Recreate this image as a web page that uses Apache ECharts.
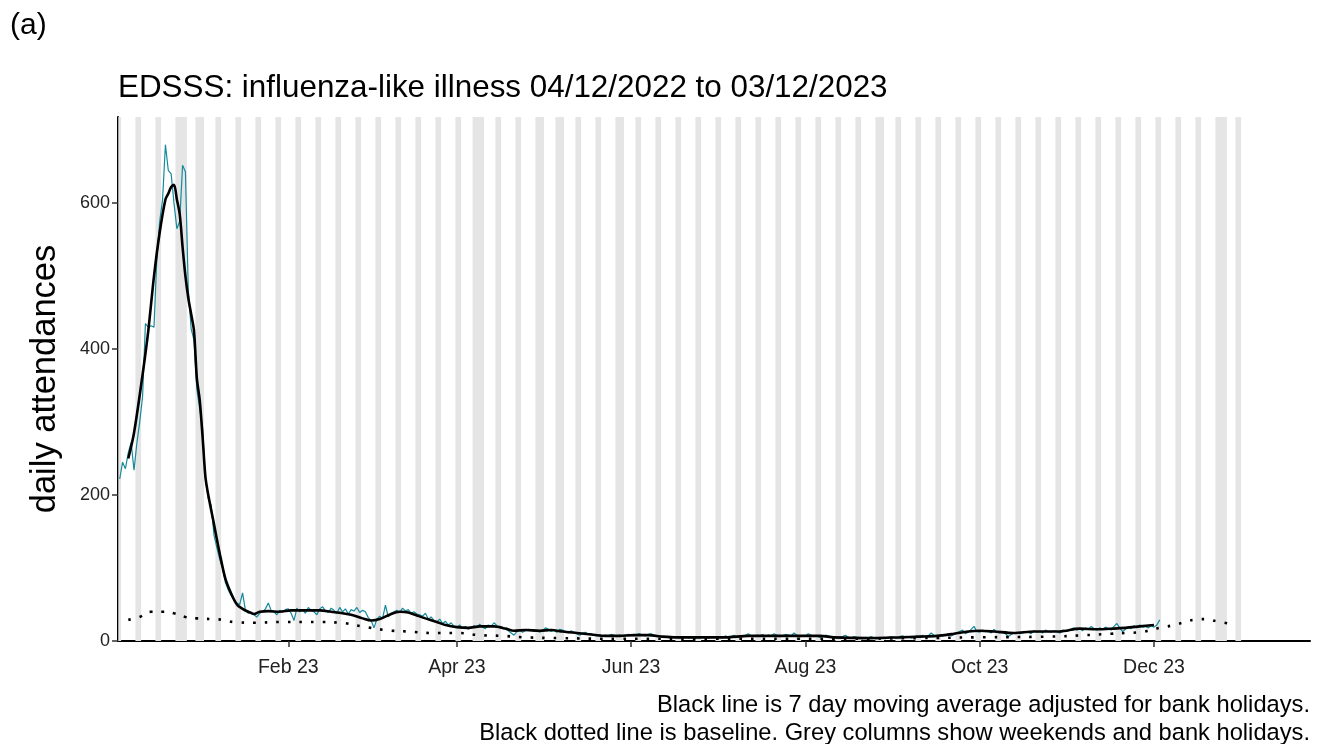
<!DOCTYPE html>
<html>
<head>
<meta charset="utf-8">
<script src="https://cdn.jsdelivr.net/npm/echarts@6/dist/echarts.min.js"></script>
<style>
  html, body { margin: 0; padding: 0; background: #fff; }
  #main { width: 1326px; height: 744px; }
</style>
</head>
<body>
<div id="main"></div>
<script>
const chart = echarts.init(document.querySelector('#main'))

// daily attendances, one array per month, first day 04/12/2022
const dec22 = [222, 245, 236, 258, 272, 234, 271, 300, 335, 435, 430, 432, 430, 525, 575, 605, 680, 645, 640, 600, 565, 575, 652, 643, 482, 428, 412, 345]
const jan23 = [318, 292, 222, 195, 186, 145, 128, 112, 100, 80, 70, 62, 56, 52, 50, 66, 42, 38, 40, 36, 33, 38, 40, 44, 52, 42, 40, 36, 42, 40, 43]
const feb23 = [44, 38, 28, 45, 40, 43, 38, 46, 42, 40, 36, 44, 47, 41, 39, 45, 42, 38, 46, 40, 44, 37, 43, 41, 46, 39, 42, 40]
const mar23 = [32, 28, 18, 30, 34, 31, 49, 33, 38, 40, 42, 39, 45, 41, 43, 38, 40, 37, 36, 34, 38, 30, 33, 28, 26, 30, 24, 27, 22, 25, 20]
const apr23 = [19, 22, 17, 20, 16, 18, 21, 18, 23, 19, 17, 22, 20, 25, 21, 18, 19, 16, 14, 11, 8, 13, 15, 12, 14, 16, 15, 13, 14, 12]
const may23 = [14, 18, 16, 13, 15, 12, 16, 15, 13, 11, 14, 12, 10, 8, 11, 12, 9, 10, 8, 7, 9, 6, 8, 7, 9, 8, 6, 8, 7, 8, 9]
const jun23 = [8, 7, 9, 10, 8, 7, 9, 10, 8, 6, 7, 5, 6, 5, 4, 6, 5, 4, 5, 6, 4, 5, 3, 5, 4, 6, 5, 4, 5, 6]
const jul23 = [5, 6, 4, 7, 5, 6, 8, 5, 7, 6, 8, 10, 7, 6, 8, 7, 9, 6, 8, 7, 10, 8, 6, 7, 9, 8, 7, 11, 8, 6, 7]
const aug23 = [7, 10, 8, 6, 7, 5, 6, 8, 7, 5, 6, 4, 5, 6, 8, 5, 4, 6, 5, 4, 3, 5, 4, 6, 4, 3, 5, 4, 3, 5, 6]
const sep23 = [5, 4, 6, 7, 5, 6, 4, 5, 7, 6, 8, 6, 7, 11, 8, 6, 7, 9, 8, 10, 7, 9, 11, 13, 15, 10, 12, 16, 20, 13]
const oct23 = [12, 15, 13, 14, 11, 16, 12, 11, 13, 10, 6, 9, 11, 12, 10, 11, 13, 12, 10, 14, 12, 13, 11, 15, 13, 12, 14, 13, 11, 15, 14]
const nov23 = [14, 16, 18, 15, 17, 14, 18, 16, 20, 17, 15, 18, 16, 19, 17, 15, 20, 24, 18, 13, 16, 19, 17, 21, 18, 22, 19, 20, 18, 21]
const dec23 = [19, 22, 29]

// 7 day moving average, [day since 04/12/2022, value]
const maPoints = [
  [3, 250], [5, 285], [8, 365], [10, 425], [12, 500], [14, 560], [16, 605], [17, 613], [18, 622], [19, 625],
  [20, 605], [21, 585], [22, 540], [23, 500], [24, 470], [25, 448], [26, 425], [27, 360], [28, 330], [29, 280],
  [30, 225], [31, 200], [33, 160], [35, 120], [37, 85], [39, 65], [41, 50], [43, 44], [45, 40], [47, 37],
  [49, 40], [52, 41], [56, 40], [60, 42], [65, 42], [70, 42], [74, 40], [78, 38], [81, 36], [85, 31],
  [88, 28], [91, 30], [95, 37], [98, 40], [101, 39], [104, 35], [107, 31], [111, 26], [114, 22], [118, 19],
  [122, 18], [126, 20], [131, 20], [135, 17], [138, 14], [142, 15], [147, 14], [151, 15], [155, 13], [160, 11],
  [165, 9], [170, 7], [175, 7], [180, 8], [185, 8], [190, 6], [195, 5], [205, 5], [212, 5], [220, 7],
  [235, 7], [245, 7], [250, 5], [262, 4], [273, 5], [280, 6], [286, 7], [292, 10], [297, 13], [301, 14],
  [306, 13], [313, 11], [320, 13], [329, 13], [336, 17], [342, 16], [348, 17], [352, 18], [357, 20], [362, 22]
]

// baseline, [day since 04/12/2022, value]
const basePoints = [
  [3, 29], [7, 33], [11, 40], [15, 40], [19, 38], [23, 33], [27, 31], [32, 30], [36, 29], [40, 26],
  [47, 25], [56, 26], [69, 26], [77, 25], [85, 20], [93, 15], [101, 13], [110, 11], [118, 11], [126, 8],
  [134, 7], [142, 5], [154, 4], [175, 3], [210, 3], [250, 3], [280, 4], [300, 5], [325, 6], [338, 8],
  [347, 10], [352, 11], [357, 12], [361, 15], [364, 18], [368, 21], [372, 25], [376, 29], [380, 30], [384, 27],
  [388, 24]
]

const bankHolidays = ['2022-12-26', '2022-12-27', '2023-01-02', '2023-04-07', '2023-04-10', '2023-05-01',
  '2023-05-08', '2023-05-29', '2023-08-28', '2023-12-25', '2023-12-26']
const COLUMN_DAYS = 393

const yTicks = [0, 200, 400, 600]
const MONTHS = ['Jan', 'Feb', 'Mar', 'Apr', 'May', 'Jun', 'Jul', 'Aug', 'Sep', 'Oct', 'Nov', 'Dec']
const tickMonths = [[2023, 1], [2023, 3], [2023, 5], [2023, 7], [2023, 9], [2023, 11]]

const DAY = 864e5
function dayTs (d) {
  const whole = Math.floor(d)
  return new Date(2022, 11, 4 + whole).getTime() + (d - whole) * DAY
}
function isoOf (d) {
  const dt = new Date(2022, 11, 4 + d)
  const p = n => String(n).padStart(2, '0')
  return dt.getFullYear() + '-' + p(dt.getMonth() + 1) + '-' + p(dt.getDate())
}

const daily = [].concat(dec22, jan23, feb23, mar23, apr23, may23, jun23, jul23, aug23, sep23, oct23, nov23, dec23)
  .map((v, i) => [dayTs(i), v])

// grey columns: weekends and bank holidays merged into runs
let columns = []
let runStart = null
for (let d = 0; d <= COLUMN_DAYS; d++) {
  const wd = new Date(2022, 11, 4 + d).getDay()
  const off = d < COLUMN_DAYS && (wd === 0 || wd === 6 || bankHolidays.includes(isoOf(d)))
  if (off && runStart === null) runStart = d
  if (!off && runStart !== null) {
    columns.push([{ xAxis: dayTs(runStart - 0.5) }, { xAxis: dayTs(d - 0.5) }])
    runStart = null
  }
}

const tickValues = tickMonths.map(m => new Date(m[0], m[1], 1).getTime())

const noteFont = '23.7px "Liberation Sans"'

const option = {
  animation: false,
  title: [
    {
      text: '(a)', left: 5, top: 6,
      textStyle: { fontFamily: 'Liberation Sans', fontSize: 30, fontWeight: 'normal', color: '#000' }
    },
    {
      text: 'EDSSS: influenza-like illness 04/12/2022 to 03/12/2023', left: 113, top: 68,
      textStyle: { fontFamily: 'Liberation Sans', fontSize: 31.4, fontWeight: 'normal', color: '#000' }
    }
  ],
  graphic: [
    {
      type: 'text', right: 16, top: 693,
      style: { text: 'Black line is 7 day moving average adjusted for bank holidays.', font: noteFont, fill: '#000' }
    },
    {
      type: 'text', right: 16, top: 721,
      style: { text: 'Black dotted line is baseline. Grey columns show weekends and bank holidays.', font: noteFont, fill: '#000' }
    }
  ],
  grid: { left: 118, right: 16, top: 117, bottom: 103 },
  xAxis: {
    type: 'value',
    min: dayTs(-0.6),
    max: dayTs(416.6),
    splitLine: { show: false },
    axisLine: { lineStyle: { color: '#000', width: 2 } },
    axisTick: { customValues: tickValues, length: 6, lineStyle: { color: '#333', width: 1.5 } },
    axisLabel: {
      customValues: tickValues,
      fontFamily: 'Liberation Sans', fontSize: 19.5, color: '#222', margin: 17,
      formatter: v => {
        const dt = new Date(v)
        return MONTHS[dt.getMonth()] + ' ' + String(dt.getFullYear()).slice(2)
      }
    }
  },
  yAxis: {
    type: 'value',
    min: 0, max: 718,
    name: 'daily attendances',
    nameLocation: 'middle', nameGap: 55,
    nameTextStyle: { fontFamily: 'Liberation Sans', fontSize: 34.5, color: '#000' },
    splitLine: { show: false },
    axisLine: { show: true, lineStyle: { color: '#000', width: 2 } },
    axisTick: { show: true, customValues: yTicks, length: 6, lineStyle: { color: '#333', width: 1.5 } },
    axisLabel: { customValues: yTicks, fontFamily: 'Liberation Sans', fontSize: 18, color: '#222', margin: 8 }
  },
  series: [
    {
      name: 'columns', type: 'line', data: [], z: 0, silent: true,
      markArea: { silent: true, itemStyle: { color: '#e5e5e5', opacity: 1 }, data: columns }
    },
    {
      name: 'daily', type: 'line', data: daily, z: 3, symbol: 'none',
      lineStyle: { color: '#168a9c', width: 1.2 }
    },
    {
      name: 'baseline', type: 'line', data: basePoints.map(p => [dayTs(p[0]), p[1]]), z: 4,
      symbol: 'none', smooth: true,
      lineStyle: { color: '#000', width: 2.6, type: [2.6, 9] }
    },
    {
      name: 'moving average', type: 'line', data: maPoints.map(p => [dayTs(p[0]), p[1]]), z: 5,
      symbol: 'none', smooth: 0.3,
      lineStyle: { color: '#000', width: 2.6 }
    }
  ]
}

chart.setOption(option)
</script>
</body>
</html>
